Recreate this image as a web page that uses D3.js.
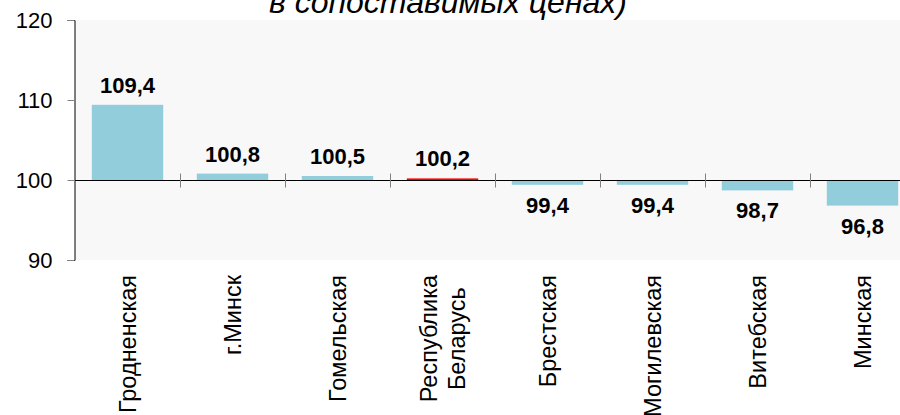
<!DOCTYPE html>
<html>
<head>
<meta charset="utf-8">
<script src="https://cdn.jsdelivr.net/npm/d3@7"></script>
<style>
  body { margin: 0; background: #fff; }
  svg { display: block; font-family: "Liberation Sans", Arial, sans-serif; }
</style>
</head>
<body>
<div id="chart"></div>
<script>
// data
var regions = ["Гродненская", "г.Минск", "Гомельская", "Республика Беларусь",
               "Брестская", "Могилевская", "Витебская", "Минская"];
var regionLines = [["Гродненская"], ["г.Минск"], ["Гомельская"], ["Республика", "Беларусь"],
                   ["Брестская"], ["Могилевская"], ["Витебская"], ["Минская"]];
var values = [109.4, 100.8, 100.5, 100.2, 99.4, 99.4, 98.7, 96.8];
var valueLabels = ["109,4", "100,8", "100,5", "100,2", "99,4", "99,4", "98,7", "96,8"];
var yTicks = [90, 100, 110, 120];
var titleText = "в сопоставимых ценах)";
var baseValue = 100;

var W = 900, H = 415;
var margin = {top: 20, left: 75};
var plotH = 240, bandW = 105;
var plotW = bandW * regions.length;

var svg = d3.select("#chart").append("svg")
  .attr("width", W).attr("height", H);

// title (upper line is cut off in the original)
svg.append("text")
  .attr("x", 448).attr("y", 13)
  .attr("text-anchor", "middle")
  .style("font-style", "italic")
  .style("font-size", "32px")
  .text(titleText);

var g = svg.append("g")
  .attr("transform", "translate(" + margin.left + "," + margin.top + ")");

// plot background
g.append("rect")
  .attr("width", plotW).attr("height", plotH)
  .attr("fill", "#f8f8f8");

var x = d3.scaleBand().domain(regions).range([0, plotW]).paddingInner(0.32).paddingOuter(0.16);
var y = d3.scaleLinear().domain([90, 120]).range([plotH, 0]);

// y axis
var yAxis = g.append("g")
  .attr("transform", "translate(-0.5,0)")
  .call(d3.axisLeft(y).tickValues(yTicks).tickSize(7).tickPadding(15));
yAxis.select(".domain").attr("stroke", "#000");
yAxis.selectAll(".tick line").attr("stroke", "#808080");
yAxis.selectAll(".tick text")
  .style("font-size", "22px")
  .attr("fill", "#000")
  .attr("font-family", null);

// bars
g.selectAll(".bar")
  .data(values)
  .enter().append("rect")
  .attr("x", function(d, i) { return x(regions[i]); })
  .attr("width", x.bandwidth())
  .attr("y", function(d) { return y(Math.max(d, baseValue)); })
  .attr("height", function(d) { return Math.abs(y(d) - y(baseValue)); })
  .attr("fill", function(d, i) { return regions[i] == "Республика Беларусь" ? "#ff0000" : "#92cddc"; });

// baseline at 100 with category ticks
var y0 = Math.round(y(baseValue)) + 0.5;
g.append("line")
  .attr("x1", 0).attr("x2", plotW)
  .attr("y1", y0).attr("y2", y0)
  .attr("stroke", "#000");
g.selectAll(".ctick")
  .data(regions.slice(1))
  .enter().append("line")
  .attr("x1", function(d) { return Math.round(x(d) - x.step() * x.paddingInner() / 2) + 0.5; })
  .attr("x2", function(d) { return Math.round(x(d) - x.step() * x.paddingInner() / 2) + 0.5; })
  .attr("y1", y0 - 7).attr("y2", y0 + 7)
  .attr("stroke", "#808080");

// value labels
g.selectAll(".vlabel")
  .data(values)
  .enter().append("text")
  .attr("x", function(d, i) { return x(regions[i]) + x.bandwidth() / 2; })
  .attr("y", function(d) { return d >= baseValue ? y(d) - 12 : y(d) + 28; })
  .attr("text-anchor", "middle")
  .style("font-size", "22px")
  .style("font-weight", "bold")
  .text(function(d, i) { return valueLabels[i]; });

// category labels, rotated
var labelTop = plotH + 15;
regionLines.forEach(function(lines, i) {
  var cx = x(regions[i]) + x.bandwidth() / 2;
  var lg = g.append("g");
  var texts = lines.map(function(t, j) {
    return lg.append("text")
      .style("font-size", "23.5px")
      .attr("text-anchor", "middle")
      .text(t);
  });
  var maxLen = d3.max(texts, function(t) { return t.node().getComputedTextLength(); });
  var lineH = 28;
  texts.forEach(function(t, j) {
    var off = (j - (lines.length - 1) / 2) * lineH;
    t.attr("transform", "translate(" + (cx + off) + "," + (labelTop + maxLen / 2) + ") rotate(-90)")
      .attr("dy", "0.36em");
  });
});
</script>
</body>
</html>
